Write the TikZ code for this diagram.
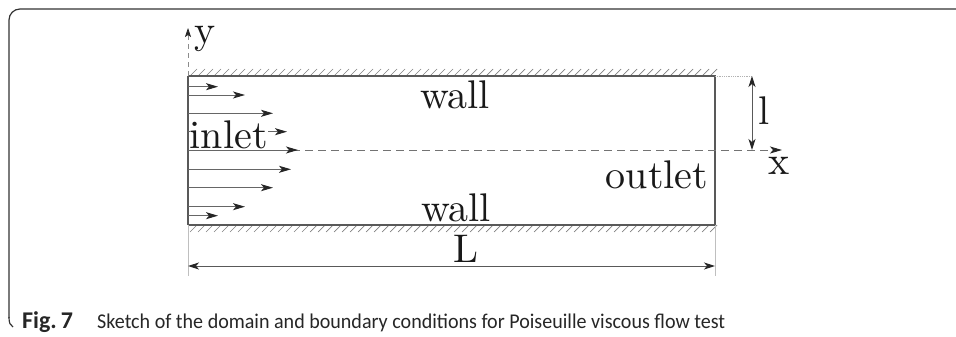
\documentclass[tikz,border=0pt]{standalone}
\usepackage{fontspec}
\newfontfamily\capfont{Carlito}
\usetikzlibrary{arrows.meta}
\begin{document}
\begin{tikzpicture}[x=1pt,y=-1pt,
  lab/.style={font=\fontsize{10}{12}\selectfont, scale=4, inner sep=0pt, text=black!90},
  wallline/.style={draw=black!65, line width=1.1pt},
  hatchline/.style={draw=black!50, line width=0.7pt},
  flow/.style={draw=black!60, line width=1pt, -{Stealth[length=12pt,width=7pt,inset=3pt,black!85]}},
  dimline/.style={draw=black!65, line width=1pt, {Stealth[length=11pt,width=7pt,inset=3pt,black!85]}-{Stealth[length=11pt,width=7pt,inset=3pt,black!85]}},
  extline/.style={draw=black!25, line width=0.8pt},
  axisline/.style={draw=black!55, line width=0.9pt, dash pattern=on 8pt off 5pt},
  framel/.style={draw=black!80, line width=1.2pt}]
\useasboundingbox (0,0) rectangle (956,337);
% frame
\draw[framel, rounded corners=11pt] (956,9) -- (9,9) -- (9,318);
\draw[framel] (9,317) .. controls (9,323) and (10,325) .. (13,327);
% channel corners
\coordinate (TL) at (188,76);
\coordinate (TR) at (715,76);
\coordinate (BL) at (188,225);
\coordinate (BR) at (715,225);
\coordinate (CL) at (188,150);
\coordinate (CR) at (782,150);
% hatching
\foreach \i in {0,...,65}{
  \draw[hatchline] (190+8*\i,76) -- ++(7,-7);
  \draw[hatchline] (190+8*\i,232) -- ++(7,-7);
}
% walls
\draw[wallline] (TL) -- (TR) -- (BR);
\draw[wallline] (BL) -- (BR);
\draw[wallline] (TL) -- (BL);
% centre line (x axis)
\draw[axisline, -{Stealth[length=12pt,width=7pt,inset=3pt,black!85]}] (CL) -- (CR);
\node[lab] (xlab) at (779,166) {x};
% y axis
\coordinate (ytop) at (188,28);
\draw[draw=black!45, line width=0.7pt, dash pattern=on 5pt off 4pt, -{Stealth[length=9pt,width=6pt,inset=2pt,black!85]}] (TL) -- (ytop);
\node[lab, anchor=base] (ylab) at (205,44) {y};
% inlet profile
\foreach \yy/\tip [count=\k] in {86.7/218, 95/245, 113.3/273, 131.7/287, 150/298, 169.3/291, 187.7/273, 206.7/245, 215.7/218}{
  \coordinate (s\k) at (188,\yy);
  \coordinate (e\k) at (\tip,\yy);
  \draw[flow] (s\k) -- (e\k);
}
\node[lab, fill=white, anchor=base west] (inlet) at (189,148) {inlet};
% labels
\node[lab, anchor=base] (wallT) at (455,108) {wall};
\node[lab, anchor=base] (wallB) at (456,221) {wall};
\node[lab, anchor=base] (outlet) at (657,188) {outlet};
% l dimension
\coordinate (lT) at (752,76);
\coordinate (lB) at (752,150);
\draw[draw=black!30, line width=0.8pt, densely dotted] (TR) -- (lT);
\draw[dimline] (lT) -- (lB);
\node[lab] (llab) at (764,111) {l};
% L dimension
\coordinate (LL) at (188,266);
\coordinate (LR) at (715,266);
\coordinate (xL) at (188,276);
\coordinate (xR) at (715,276);
\draw[extline] (BL) -- (xL);
\draw[extline] (BR) -- (xR);
\draw[dimline] (LL) -- (LR);
\node[lab, anchor=base] (Llab) at (466,262) {L};
% caption
\node[anchor=base west, inner sep=0pt, font=\capfont\fontsize{24}{28}\selectfont\bfseries, text=black!85] (fig) at (22,328) {Fig.\,7};
\node[anchor=base west, inner sep=0pt, xscale=0.955, font=\capfont\fontsize{21}{24}\selectfont, text=black!85] (cap) at (97,328) {Sketch of the domain and boundary conditions for Poiseuille viscous flow test};
\end{tikzpicture}
\end{document}
